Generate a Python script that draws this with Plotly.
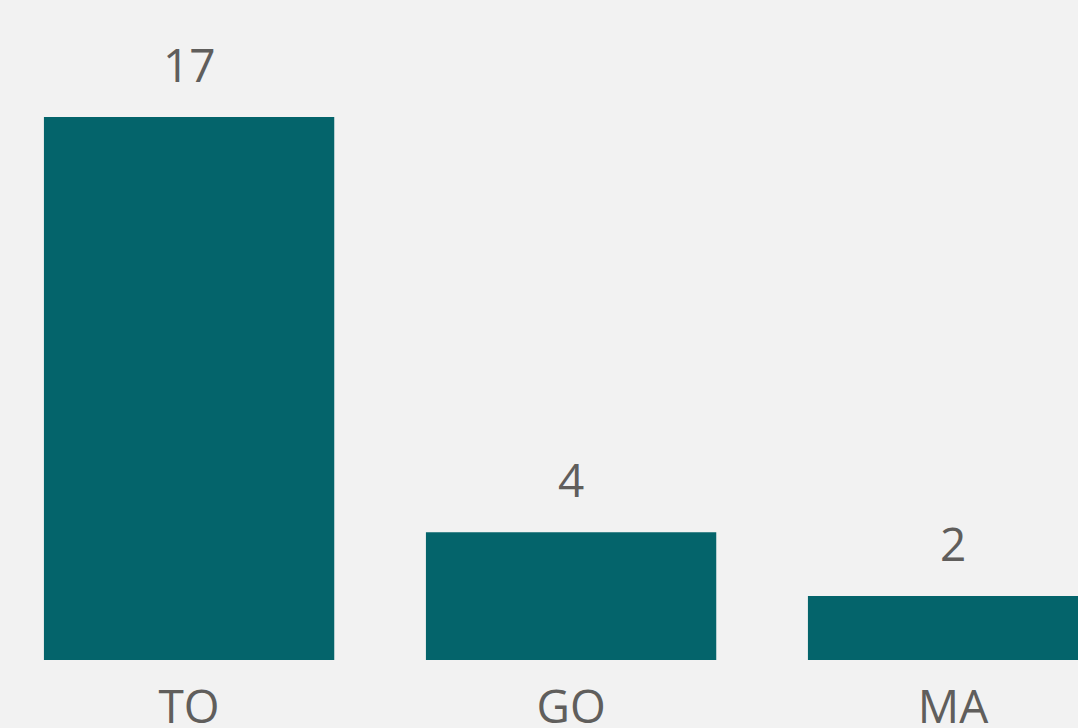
import plotly.graph_objects as go

categories = ["TO", "GO", "MA"]
values = [17, 4, 2]

bar_color = "#04646b"
bg = "#f2f2f2"
text_color = "#605e5c"
font_family = "Open Sans, Segoe UI, sans-serif"

fig = go.Figure()
fig.add_trace(go.Bar(
    x=categories, y=values,
    marker=dict(color=bar_color, line=dict(width=0)),
    width=0.76,
    hoverinfo="x+y",
))

for c, v in zip(categories, values):
    fig.add_annotation(
        x=c, y=v, text=str(v), showarrow=False,
        xanchor="center", yanchor="bottom", yshift=20,
        font=dict(size=46, color=text_color, family=font_family),
    )

fig.update_layout(
    width=1078, height=728,
    paper_bgcolor=bg, plot_bgcolor=bg,
    margin=dict(l=0, r=0, t=0, b=68, autoexpand=False),
    showlegend=False,
    xaxis=dict(
        range=[-0.495, 2.327], showgrid=False, zeroline=False, showline=False,
        ticks="", tickfont=dict(size=46, color=text_color, family=font_family),
        ticklabelstandoff=16, automargin=False,
        fixedrange=True,
    ),
    yaxis=dict(
        range=[0, 20.66], showgrid=False, zeroline=False, showline=False,
        showticklabels=False, fixedrange=True, automargin=False,
    ),
    bargap=0.24,
)

fig.write_html(
    "out.html",
    config={"displayModeBar": False},
    post_script="document.body.style.margin='0';document.body.style.overflow='hidden';document.body.style.background='#f2f2f2';",
)
